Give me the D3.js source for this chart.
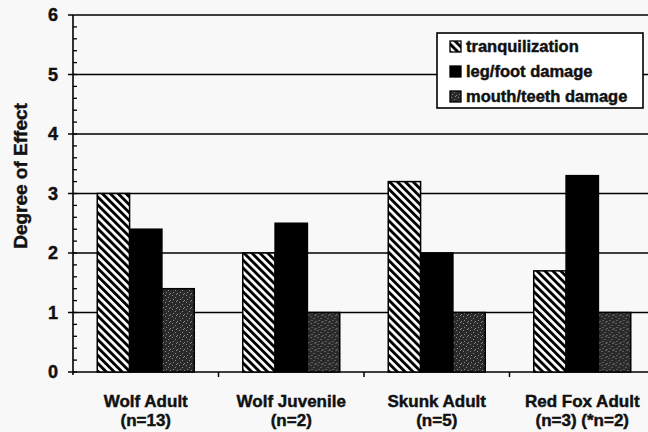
<!DOCTYPE html>
<html>
<head>
<meta charset="utf-8">
<script src="https://cdn.jsdelivr.net/npm/d3@7"></script>
<style>
    body { margin: 0; background: #f8f8f8; }
    #chart text { font-family: "Liberation Sans", Arial, sans-serif; font-weight: bold; fill: #111; stroke: #111; stroke-width: 0.45px; }
</style>
</head>
<body>
<div id="chart"></div>
<script>
(function () {
    'use strict';

    var categories = ['Wolf Adult', 'Wolf Juvenile', 'Skunk Adult', 'Red Fox Adult'];
    var sampleLabels = ['(n=13)', '(n=2)', '(n=5)', '(n=3) (*n=2)'];
    var seriesNames = ['tranquilization', 'leg/foot damage', 'mouth/teeth damage'];
    var tranquilization = [3.0, 2.0, 3.2, 1.7];
    var legFootDamage = [2.4, 2.5, 2.0, 3.3];
    var mouthTeethDamage = [1.4, 1.0, 1.0, 1.0];
    var yTicks = [0, 1, 2, 3, 4, 5, 6];

    var width = 648, height = 432;
    var margin = { left: 73, top: 15, right: -7, bottom: 60 };

    var svg = d3.select('#chart').append('svg')
        .attr('width', width)
        .attr('height', height);

    var defs = svg.append('defs');
    // diagonal hatch, running top-left to bottom-right
    var hatch = defs.append('pattern')
        .attr('id', 'hatch')
        .attr('patternUnits', 'userSpaceOnUse')
        .attr('width', 5.6)
        .attr('height', 5.6)
        .attr('patternTransform', 'rotate(-45)');
    hatch.append('rect').attr('width', 5.6).attr('height', 5.6).attr('fill', '#fff');
    hatch.append('rect').attr('width', 2.9).attr('height', 5.6).attr('fill', '#000');

    // dark stipple
    var stipple = defs.append('pattern')
        .attr('id', 'stipple')
        .attr('patternUnits', 'userSpaceOnUse')
        .attr('width', 7)
        .attr('height', 7);
    stipple.append('rect').attr('width', 7).attr('height', 7).attr('fill', '#2a2a2a');
    [[1, 1], [4, 3], [2, 5], [6, 6], [5, 0]].forEach(function (p) {
        stipple.append('rect')
            .attr('x', p[0]).attr('y', p[1])
            .attr('width', 1).attr('height', 1)
            .attr('fill', '#8a8a8a');
    });

    var fills = ['url(#hatch)', '#000', 'url(#stipple)'];
    var seriesValues = [tranquilization, legFootDamage, mouthTeethDamage];

    var x0 = d3.scaleBand()
        .domain(categories)
        .range([margin.left, width - margin.right])
        .padding(0);
    var x1 = d3.scaleBand()
        .domain(seriesNames)
        .range([0, x0.bandwidth()])
        .paddingInner(0)
        .paddingOuter(0.75);
    var y = d3.scaleLinear()
        .domain([0, 6])
        .range([height - margin.bottom, margin.top]);

    // gridlines
    svg.append('g')
        .selectAll('line')
        .data(yTicks)
        .enter()
        .append('line')
        .attr('x1', margin.left - 5)
        .attr('x2', width)
        .attr('y1', function (d) { return y(d); })
        .attr('y2', function (d) { return y(d); })
        .attr('stroke', '#000')
        .attr('stroke-width', 1.6);

    // bars
    var rows = categories.map(function (c, i) {
        return seriesNames.map(function (s, j) {
            return { cat: c, series: s, value: seriesValues[j][i], fill: fills[j] };
        });
    });
    svg.append('g')
        .selectAll('g')
        .data(rows)
        .enter()
        .append('g')
        .attr('transform', function (d) { return 'translate(' + x0(d[0].cat) + ',0)'; })
        .selectAll('rect')
        .data(function (d) { return d; })
        .enter()
        .append('rect')
        .attr('x', function (d) { return x1(d.series); })
        .attr('y', function (d) { return y(d.value); })
        .attr('width', x1.bandwidth())
        .attr('height', function (d) { return y(0) - y(d.value); })
        .attr('fill', function (d) { return d.fill; })
        .attr('stroke', '#000')
        .attr('stroke-width', 1.5);

    // y axis with minor ticks inside
    var yAxis = svg.append('g');
    yAxis.append('line')
        .attr('x1', margin.left).attr('x2', margin.left)
        .attr('y1', y(6)).attr('y2', y(0) + 3)
        .attr('stroke', '#000').attr('stroke-width', 1.6);
    yAxis.selectAll('.minor')
        .data(d3.range(0, 30).map(function (i) { return i / 5; }))
        .enter()
        .append('line')
        .attr('class', 'minor')
        .attr('x1', margin.left).attr('x2', margin.left + 4)
        .attr('y1', function (d) { return y(d); })
        .attr('y2', function (d) { return y(d); })
        .attr('stroke', '#000').attr('stroke-width', 1.3);
    yAxis.selectAll('text')
        .data(yTicks)
        .enter()
        .append('text')
        .attr('x', margin.left - 15)
        .attr('y', function (d) { return y(d); })
        .attr('dy', '0.36em')
        .attr('text-anchor', 'end')
        .style('font-size', '18px')
        .text(function (d) { return d; });

    svg.append('text')
        .attr('transform', 'translate(27,176) rotate(-90)')
        .attr('text-anchor', 'middle')
        .style('font-size', '19px')
        .text('Degree of Effect');

    // x axis ticks and labels
    var xAxis = svg.append('g');
    xAxis.selectAll('line')
        .data(categories.slice(1))
        .enter()
        .append('line')
        .attr('x1', function (d) { return x0(d); })
        .attr('x2', function (d) { return x0(d); })
        .attr('y1', y(0)).attr('y2', y(0) + 5)
        .attr('stroke', '#000').attr('stroke-width', 1.5);
    var labels = xAxis.selectAll('text')
        .data(categories)
        .enter()
        .append('text')
        .attr('text-anchor', 'middle')
        .style('font-size', '17px');
    labels.append('tspan')
        .attr('x', function (d) { return x0(d) + x0.bandwidth() / 2; })
        .attr('y', 407)
        .text(function (d) { return d; });
    labels.append('tspan')
        .attr('x', function (d) { return x0(d) + x0.bandwidth() / 2; })
        .attr('y', 426)
        .text(function (d, i) { return sampleLabels[i]; });

    // legend
    var legend = svg.append('g').attr('transform', 'translate(437,33)');
    legend.append('rect')
        .attr('width', 206).attr('height', 75)
        .attr('fill', '#fff')
        .attr('stroke', '#000').attr('stroke-width', 1.6);
    var item = legend.selectAll('.item')
        .data(seriesNames)
        .enter()
        .append('g')
        .attr('class', 'item')
        .attr('transform', function (d, i) { return 'translate(13,' + (13 + i * 25) + ')'; });
    item.append('rect')
        .attr('x', 0).attr('y', -5)
        .attr('width', 11).attr('height', 11)
        .attr('fill', function (d, i) { return fills[i]; })
        .attr('stroke', '#000').attr('stroke-width', 1.3);
    item.append('text')
        .attr('x', 16)
        .attr('dy', '0.36em')
        .style('font-size', '16.5px')
        .text(function (d) { return d; });
}());
</script>
</body>
</html>
